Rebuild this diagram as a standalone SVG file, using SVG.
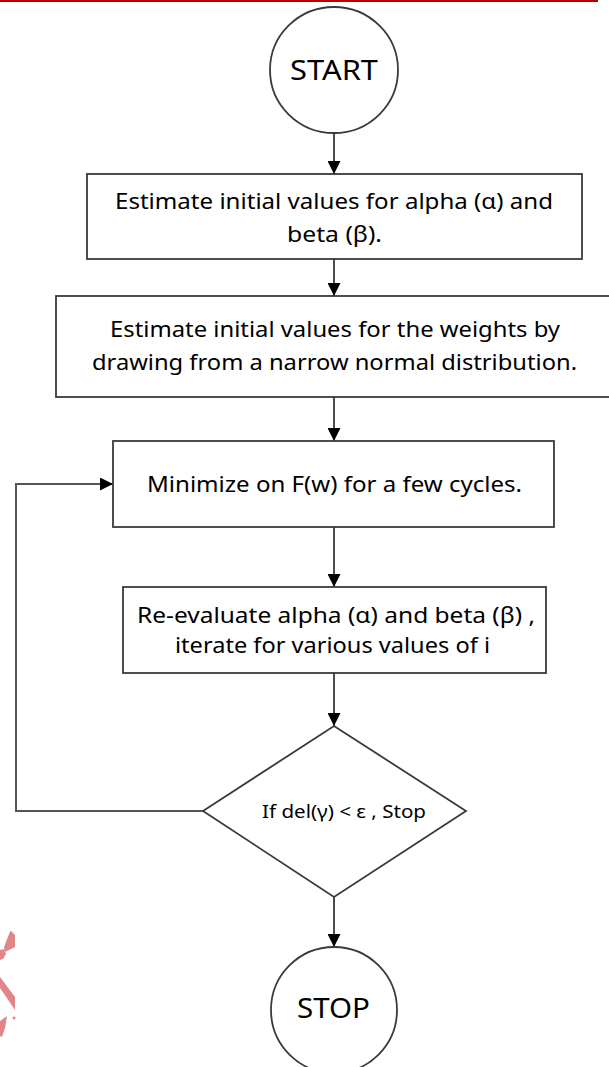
<svg xmlns="http://www.w3.org/2000/svg" width="609" height="1067" viewBox="0 0 609 1067">
  <defs>
    <marker id="arrow" viewBox="0 0 10 10" refX="10" refY="5" markerWidth="14" markerHeight="13" markerUnits="userSpaceOnUse" orient="auto">
      <path d="M0,0 L10,5 L0,10 Z" fill="#000"/>
    </marker>
    <style>
      .shape { fill: #fff; stroke: #3a3a3a; stroke-width: 1.8; }
      .conn { fill: none; stroke: #111; stroke-width: 1.5; }
      .loop { fill: none; stroke: #555; stroke-width: 2; }
      .lbl { font-family: "Noto Sans", "Open Sans", sans-serif; font-size: 21px; fill: #000; text-anchor: middle; }
      .big { font-size: 28px; }
      .small { font-size: 18px; }
      .mark { fill: #e08689; }
    </style>
  </defs>

  <!-- top rule -->
  <rect x="0" y="0" width="598" height="2" fill="#c00000"/>

  <!-- red mark at lower left edge -->
  <g id="edge-mark">
    <path class="mark" d="M4,947 L10.5,930.5 L15,935 L15,947 L9,950 L5,952 Z"/>
    <path class="mark" d="M0,950 L4,949 L6,954 L3,959 L0,960 Z"/>
    <path class="mark" d="M0,977 L15,997 L15,1010 L0,988 Z"/>
    <path class="mark" d="M0,1021 L7,1016 L5,1028 L2,1037 L0,1036 Z"/>
    <circle class="mark" cx="14" cy="1018" r="1.5"/>
  </g>

  <!-- connectors -->
  <g id="connectors">
    <line class="conn" x1="334" y1="133" x2="334" y2="174" marker-end="url(#arrow)"/>
    <line class="conn" x1="334" y1="259" x2="334" y2="296" marker-end="url(#arrow)"/>
    <line class="conn" x1="334" y1="397" x2="334" y2="441" marker-end="url(#arrow)"/>
    <line class="conn" x1="334" y1="527" x2="334" y2="587" marker-end="url(#arrow)"/>
    <line class="conn" x1="334" y1="673" x2="334" y2="726" marker-end="url(#arrow)"/>
    <line class="conn" x1="334" y1="897" x2="334" y2="947" marker-end="url(#arrow)"/>
    <polyline class="loop" points="203,811 16,811 16,484 113,484" marker-end="url(#arrow)"/>
  </g>

  <g id="start">
    <ellipse class="shape" cx="334" cy="70" rx="64" ry="63"/>
    <text class="lbl big" x="334" y="80" textLength="88" lengthAdjust="spacingAndGlyphs">START</text>
  </g>

  <g id="init-alpha-beta">
    <rect class="shape" x="87" y="174" width="495" height="85"/>
    <text class="lbl" x="334" y="209" textLength="438" lengthAdjust="spacingAndGlyphs">Estimate initial values for alpha (α)  and</text>
    <text class="lbl" x="334.5" y="242" textLength="95" lengthAdjust="spacingAndGlyphs">beta (β).</text>
  </g>

  <g id="init-weights">
    <rect class="shape" x="56" y="296" width="560" height="101"/>
    <text class="lbl" x="335" y="337" textLength="450" lengthAdjust="spacingAndGlyphs">Estimate initial values for the weights by</text>
    <text class="lbl" x="334.5" y="370" textLength="485" lengthAdjust="spacingAndGlyphs">drawing from a narrow normal distribution.</text>
  </g>

  <g id="minimize">
    <rect class="shape" x="113" y="441" width="441" height="86"/>
    <text class="lbl" x="334.5" y="492" textLength="375" lengthAdjust="spacingAndGlyphs">Minimize on F(w) for a few cycles.</text>
  </g>

  <g id="re-evaluate">
    <rect class="shape" x="123" y="587" width="423" height="86"/>
    <text class="lbl" x="336" y="623" textLength="398" lengthAdjust="spacingAndGlyphs">Re-evaluate alpha (α)  and beta (β) ,</text>
    <text class="lbl" x="332.5" y="653" textLength="315" lengthAdjust="spacingAndGlyphs">iterate for various values of i</text>
  </g>

  <g id="check">
    <polygon class="shape" points="334,726 466,811 334,897 203,811"/>
    <text class="lbl small" x="344" y="818" textLength="164" lengthAdjust="spacingAndGlyphs">If del(γ) &lt; ε , Stop</text>
  </g>

  <g id="stop">
    <circle class="shape" cx="334" cy="1010" r="63"/>
    <text class="lbl big" x="333.5" y="1018" textLength="73" lengthAdjust="spacingAndGlyphs">STOP</text>
  </g>
</svg>
